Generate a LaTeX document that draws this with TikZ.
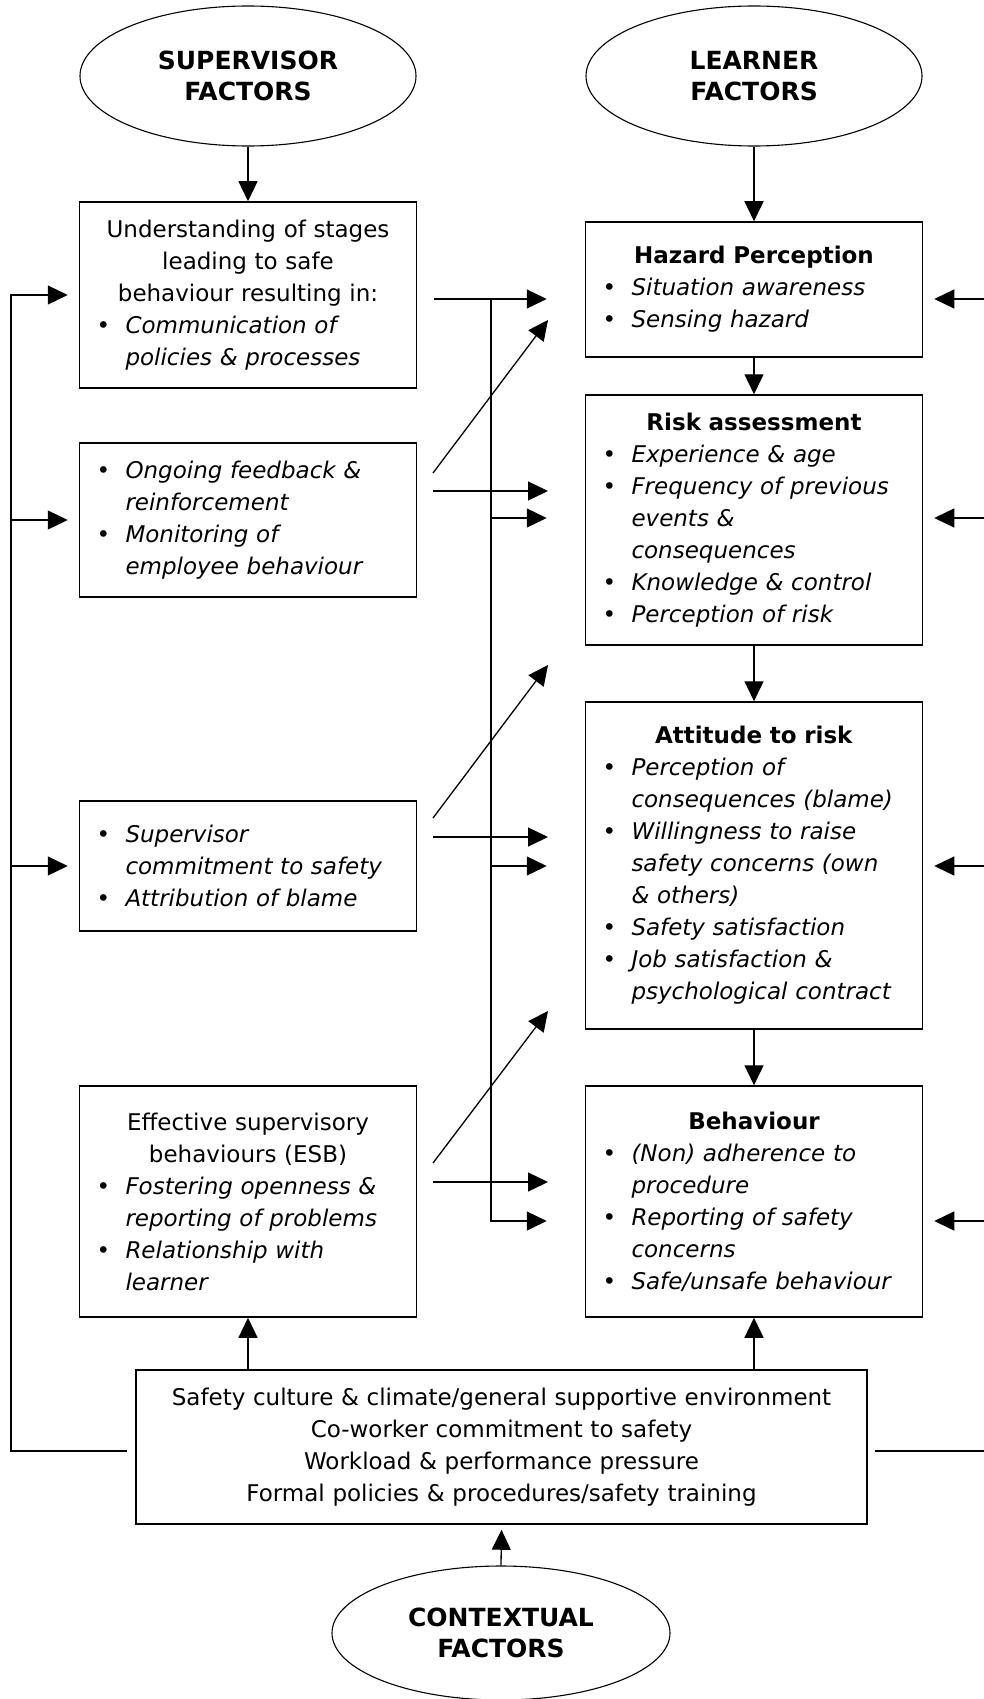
\documentclass[tikz,border=0pt]{standalone}
\usepackage{fontspec}
\setmainfont{DejaVu Sans}
\usepackage{tikz}
\usetikzlibrary{calc,arrows.meta,shapes.geometric}
\setlength{\parindent}{0pt}
\newcommand{\fs}{\fontsize{23}{32}\selectfont}
\newcommand{\bul}{\makebox[46pt][l]{\hspace{17pt}\textbullet}}
\newcommand{\cnt}{\hspace*{46pt}}
\newcommand{\ctr}[1]{\makebox[337pt][c]{#1}}
\tikzset{
  box/.style={draw=black, line width=1.5pt, inner xsep=0pt, inner ysep=0pt, text width=337pt, minimum width=337pt, align=left},
  wide/.style={box, text width=731pt, minimum width=731pt, align=center},
  oval/.style={draw=black, ellipse, line width=1.1pt, minimum width=336pt, minimum height=140pt, align=center, font=\fontsize{25}{31}\selectfont\bfseries},
  conn/.style={draw=black, line width=1.3pt},
  arr/.style={conn, -{Triangle[length=20pt,width=19pt]}}
}

\begin{document}
\begin{tikzpicture}[x=1pt,y=-1pt,font=\fs]
  \useasboundingbox (0,0) rectangle (984,1699);

  \node[oval] (sup) at (248,76) {SUPERVISOR\\FACTORS};
  \node[oval] (lrn) at (754,76) {LEARNER\\FACTORS};
  \node[oval,minimum width=338pt,minimum height=134pt] (cxt) at (501,1633) {CONTEXTUAL\\FACTORS};

  \node[box,minimum height=186pt] (und) at (248,295) {\ctr{Understanding of stages}\\ \ctr{leading to safe}\\ \ctr{behaviour resulting in:}\\ \bul\textit{Communication of}\\ \cnt\textit{policies \& processes}};
  \node[box,minimum height=154pt] (fdb) at (248,520) {\bul\textit{Ongoing feedback \&}\\ \cnt\textit{reinforcement}\\ \bul\textit{Monitoring of}\\ \cnt\textit{employee behaviour}};
  \node[box,minimum height=130pt] (com) at (248,866) {\bul\textit{Supervisor}\\ \cnt\textit{commitment to safety}\\ \bul\textit{Attribution of blame}};
  \node[box,minimum height=231pt] (esb) at (248,1201.5) {\ctr{Effective supervisory}\\ \ctr{behaviours (ESB)}\\ \bul\textit{Fostering openness \&}\\ \cnt\textit{reporting of problems}\\ \bul\textit{Relationship with}\\ \cnt\textit{learner}};

  \node[box,minimum height=135pt] (haz) at (754,289.5) {\ctr{\textbf{Hazard Perception}}\\ \bul\textit{Situation awareness}\\ \bul\textit{Sensing hazard}};
  \node[box,minimum height=250pt] (rsk) at (754,520) {\ctr{\textbf{Risk assessment}}\\ \bul\textit{Experience \& age}\\ \bul\textit{Frequency of previous}\\ \cnt\textit{events \&}\\ \cnt\textit{consequences}\\ \bul\textit{Knowledge \& control}\\ \bul\textit{Perception of risk}};
  \node[box,minimum height=327pt] (att) at (754,865.5) {\ctr{\textbf{Attitude to risk}}\\ \bul\textit{Perception of}\\ \cnt\textit{consequences (blame)}\\ \bul\textit{Willingness to raise}\\ \cnt\textit{safety concerns (own}\\ \cnt\textit{\& others)}\\ \bul\textit{Safety satisfaction}\\ \bul\textit{Job satisfaction \&}\\ \cnt\textit{psychological contract}};
  \node[box,minimum height=231pt] (beh) at (754,1201.5) {\ctr{\textbf{Behaviour}}\\ \bul\textit{(Non) adherence to}\\ \cnt\textit{procedure}\\ \bul\textit{Reporting of safety}\\ \cnt\textit{concerns}\\ \bul\textit{Safe/unsafe behaviour}};

  \node[wide,minimum height=154pt] (ctx) at (501.5,1447) {Safety culture \& climate/general supportive environment\\ Co-worker commitment to safety\\ Workload \& performance pressure\\ Formal policies \& procedures/safety training};

  \draw[arr] (sup.south) -- (und.north);
  \draw[arr] (lrn.south) -- (haz.north);
  \draw[arr] (haz.south) -- (rsk.north);
  \draw[arr] (rsk.south) -- (att.north);
  \draw[arr] (att.south) -- (beh.north);
  \draw[arr] (esb.south |- ctx.north) -- (esb.south);
  \draw[arr] (beh.south |- ctx.north) -- (beh.south);
  \draw[arr] (cxt.north) -- ($(ctx.south)+(0,5)$);

  \coordinate (fbl) at (11,0);
  \coordinate (fbr) at (992,0);
  \coordinate (mid) at (491,0);
  \coordinate (ctxl) at (127,1451);
  \coordinate (ctxr) at (875,1451);
  \coordinate (y1) at (0,299);
  \coordinate (y2) at (0,518);
  \coordinate (y3) at (0,866);
  \coordinate (y4) at (0,1221);

  \draw[arr] (ctxl) -| (fbl |- und.west) -- ($(und.west)+(-11,0)$);
  \draw[arr] (fbl |- fdb.west) -- ($(fdb.west)+(-11,0)$);
  \draw[arr] (fbl |- com.west) -- ($(com.west)+(-11,0)$);

  \draw[arr] (ctxr) -| (fbr |- y1) -- ($(haz.east |- y1)+(11,0)$);
  \draw[arr] (fbr |- y2) -- ($(rsk.east |- y2)+(11,0)$);
  \draw[arr] (fbr |- y3) -- ($(att.east |- y3)+(11,0)$);
  \draw[arr] (fbr |- y4) -- ($(beh.east |- y4)+(11,0)$);

  \draw[arr] ($(und.east |- y1)+(17,0)$) -- ($(haz.west |- y1)+(-38,0)$);
  \draw[arr] (mid |- y1) |- ($(beh.west |- y4)+(-38,0)$);
  \draw[arr] (mid |- y2) -- ($(rsk.west |- y2)+(-38,0)$);
  \draw[arr] (mid |- y3) -- ($(att.west |- y3)+(-38,0)$);

  \coordinate (fdbh) at (433,491);
  \coordinate (fdbd) at (433,473);
  \coordinate (comh) at (433,837);
  \coordinate (comd) at (433,818);
  \coordinate (esbh) at (433,1182);
  \coordinate (esbd) at (433,1163);
  \coordinate (hazd) at (548,320);
  \coordinate (rskd) at (548,665);
  \coordinate (attd) at (548,1011);

  \draw[arr] (fdbh) -- (fdbh -| hazd);
  \draw[arr] (fdbd) -- (hazd);
  \draw[arr] (comh) -- (comh -| rskd);
  \draw[arr] (comd) -- (rskd);
  \draw[arr] (esbh) -- (esbh -| attd);
  \draw[arr] (esbd) -- (attd);
\end{tikzpicture}
\end{document}
